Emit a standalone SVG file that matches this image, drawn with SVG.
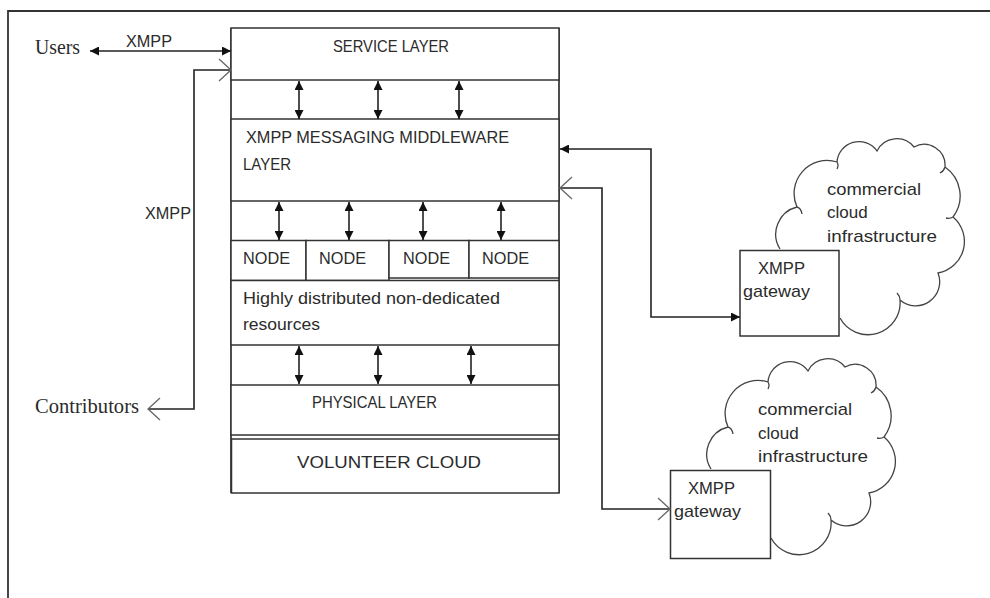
<svg xmlns="http://www.w3.org/2000/svg" width="990" height="598" viewBox="0 0 990 598">
<style>
.box{fill:#fff;stroke:#333;stroke-width:1.5}
.ln{fill:none;stroke:#222;stroke-width:1.6}
.t{font-family:"Liberation Sans",Arial,sans-serif;font-size:17px;fill:#2b2b2b}
.s{font-family:"Liberation Serif","Times New Roman",serif;font-size:20px;fill:#2b2b2b}
.cl{fill:none;stroke:#444;stroke-width:1.3}
</style>
<defs>
<marker id="fa" viewBox="0 0 9 9" refX="9" refY="4.5" markerWidth="9" markerHeight="9" markerUnits="userSpaceOnUse" orient="auto-start-reverse"><path d="M0,0 L9,4.5 L0,9 z" fill="#111"/></marker>
<marker id="oa" viewBox="0 0 14 24" refX="13" refY="12" markerWidth="14" markerHeight="24" markerUnits="userSpaceOnUse" orient="auto-start-reverse"><path d="M1,1 L13,12 L1,23" fill="none" stroke="#666" stroke-width="1.3"/></marker>
<path id="cloudShape" d="M780,249 A28,28 0 0 1 797,207 A33,33 0 0 1 837,162 A22,22 0 0 1 877,151 A22,22 0 0 1 914,147 A21,21 0 0 1 945,167 A35,35 0 0 1 953,217 A32,32 0 0 1 938,273 A24,24 0 0 1 900,300 A32,32 0 0 1 840,318 M797,207 q4,1 5,7 M837,162 q2,3 0,7 M945,167 q-1,4 -5,6 M953,217 q-3,2 -7,1 M900,300 q0,-4 -3,-7"/>
</defs>
<rect width="990" height="598" fill="#fff"/>
<path id="frame" d="M8,598 V11 H990" fill="none" stroke="#333" stroke-width="1.8"/>

<g id="stack-sides"><path class="ln" d="M231,28 V493 M559,28 V493"/></g>

<g id="service-layer"><rect class="box" x="231" y="28" width="328" height="52"/><text class="t" x="333" y="51.5" textLength="116" lengthAdjust="spacingAndGlyphs">SERVICE LAYER</text></g>
<g id="middleware-layer"><rect class="box" x="231" y="119" width="328" height="82"/><text class="t" x="246" y="143" textLength="263" lengthAdjust="spacingAndGlyphs">XMPP MESSAGING MIDDLEWARE</text><text class="t" x="243" y="170" textLength="48" lengthAdjust="spacingAndGlyphs">LAYER</text></g>
<g id="node1"><rect class="box" x="231" y="240.5" width="75" height="40"/><text class="t" x="243" y="263.5" textLength="47" lengthAdjust="spacingAndGlyphs">NODE</text></g>
<g id="node2"><rect class="box" x="306" y="240.5" width="83" height="40"/><text class="t" x="319" y="263.5" textLength="47" lengthAdjust="spacingAndGlyphs">NODE</text></g>
<g id="node3"><rect class="box" x="389" y="240.5" width="80" height="37.5"/><text class="t" x="403" y="263.5" textLength="47" lengthAdjust="spacingAndGlyphs">NODE</text></g>
<g id="node4"><rect class="box" x="469" y="240.5" width="90" height="37.5"/><text class="t" x="482" y="263.5" textLength="47" lengthAdjust="spacingAndGlyphs">NODE</text></g>
<g id="resources"><rect class="box" x="231" y="280.5" width="328" height="64.5"/><text class="t" x="243" y="304" font-size="18" textLength="257" lengthAdjust="spacingAndGlyphs">Highly distributed non-dedicated</text><text class="t" x="243" y="330" font-size="18" textLength="77" lengthAdjust="spacingAndGlyphs">resources</text></g>
<g id="physical-layer"><rect class="box" x="231" y="385" width="328" height="50"/><text class="t" x="312" y="407.5" textLength="125" lengthAdjust="spacingAndGlyphs">PHYSICAL LAYER</text></g>
<g id="volunteer-cloud"><rect class="box" x="231.5" y="439" width="327.5" height="54"/><text class="t" x="297" y="468" font-size="19.5" fill="#111" textLength="184" lengthAdjust="spacingAndGlyphs">VOLUNTEER CLOUD</text></g>

<g id="users"><text class="s" x="35" y="54" textLength="45" lengthAdjust="spacingAndGlyphs">Users</text></g>
<g id="contributors"><text class="s" x="35" y="413" textLength="104" lengthAdjust="spacingAndGlyphs">Contributors</text></g>

<g id="cloud1"><use href="#cloudShape" class="cl"/><text class="t" x="827" y="195" font-size="18" textLength="94" lengthAdjust="spacingAndGlyphs">commercial</text><text class="t" x="827" y="218" font-size="18">cloud</text><text class="t" x="827" y="241.5" font-size="18" textLength="110" lengthAdjust="spacingAndGlyphs">infrastructure</text></g>
<g id="gateway1"><rect class="box" x="740" y="250.5" width="99" height="85.5"/><text class="t" x="758" y="273.5" textLength="47" lengthAdjust="spacingAndGlyphs">XMPP</text><text class="t" x="743" y="297" font-size="18" textLength="67" lengthAdjust="spacingAndGlyphs">gateway</text></g>

<g id="cloud2"><use href="#cloudShape" class="cl" transform="translate(-69,220)"/><text class="t" x="758" y="415" font-size="18" textLength="94" lengthAdjust="spacingAndGlyphs">commercial</text><text class="t" x="758" y="438.5" font-size="18">cloud</text><text class="t" x="758" y="461.5" font-size="18" textLength="110" lengthAdjust="spacingAndGlyphs">infrastructure</text></g>
<g id="gateway2"><rect class="box" x="670.5" y="470.5" width="100" height="88"/><text class="t" x="688" y="493.5" textLength="47" lengthAdjust="spacingAndGlyphs">XMPP</text><text class="t" x="674" y="517" font-size="18" textLength="67" lengthAdjust="spacingAndGlyphs">gateway</text></g>

<g id="connectors">
<path class="ln" d="M90,51 H231" marker-start="url(#fa)" marker-end="url(#fa)"/>
<text class="t" x="126" y="47" textLength="46" lengthAdjust="spacingAndGlyphs">XMPP</text>
<path class="ln" d="M231,70 H194 V409 H148" marker-start="url(#oa)" marker-end="url(#oa)"/>
<text class="t" x="145" y="219" textLength="46" lengthAdjust="spacingAndGlyphs">XMPP</text>
<path class="ln" d="M299,81 V119" marker-start="url(#fa)" marker-end="url(#fa)"/>
<path class="ln" d="M378,81 V119" marker-start="url(#fa)" marker-end="url(#fa)"/>
<path class="ln" d="M459,81 V119" marker-start="url(#fa)" marker-end="url(#fa)"/>
<path class="ln" d="M279,202 V240" marker-start="url(#fa)" marker-end="url(#fa)"/>
<path class="ln" d="M349,202 V240" marker-start="url(#fa)" marker-end="url(#fa)"/>
<path class="ln" d="M423,202 V240" marker-start="url(#fa)" marker-end="url(#fa)"/>
<path class="ln" d="M501,202 V240" marker-start="url(#fa)" marker-end="url(#fa)"/>
<path class="ln" d="M299,346 V384" marker-start="url(#fa)" marker-end="url(#fa)"/>
<path class="ln" d="M378,346 V384" marker-start="url(#fa)" marker-end="url(#fa)"/>
<path class="ln" d="M471,346 V384" marker-start="url(#fa)" marker-end="url(#fa)"/>
<path class="ln" d="M560,149 H651 V317 H740" marker-start="url(#fa)" marker-end="url(#fa)"/>
<path class="ln" d="M560,188 H602 V509 H670" marker-start="url(#oa)" marker-end="url(#oa)"/>
</g>
</svg>
